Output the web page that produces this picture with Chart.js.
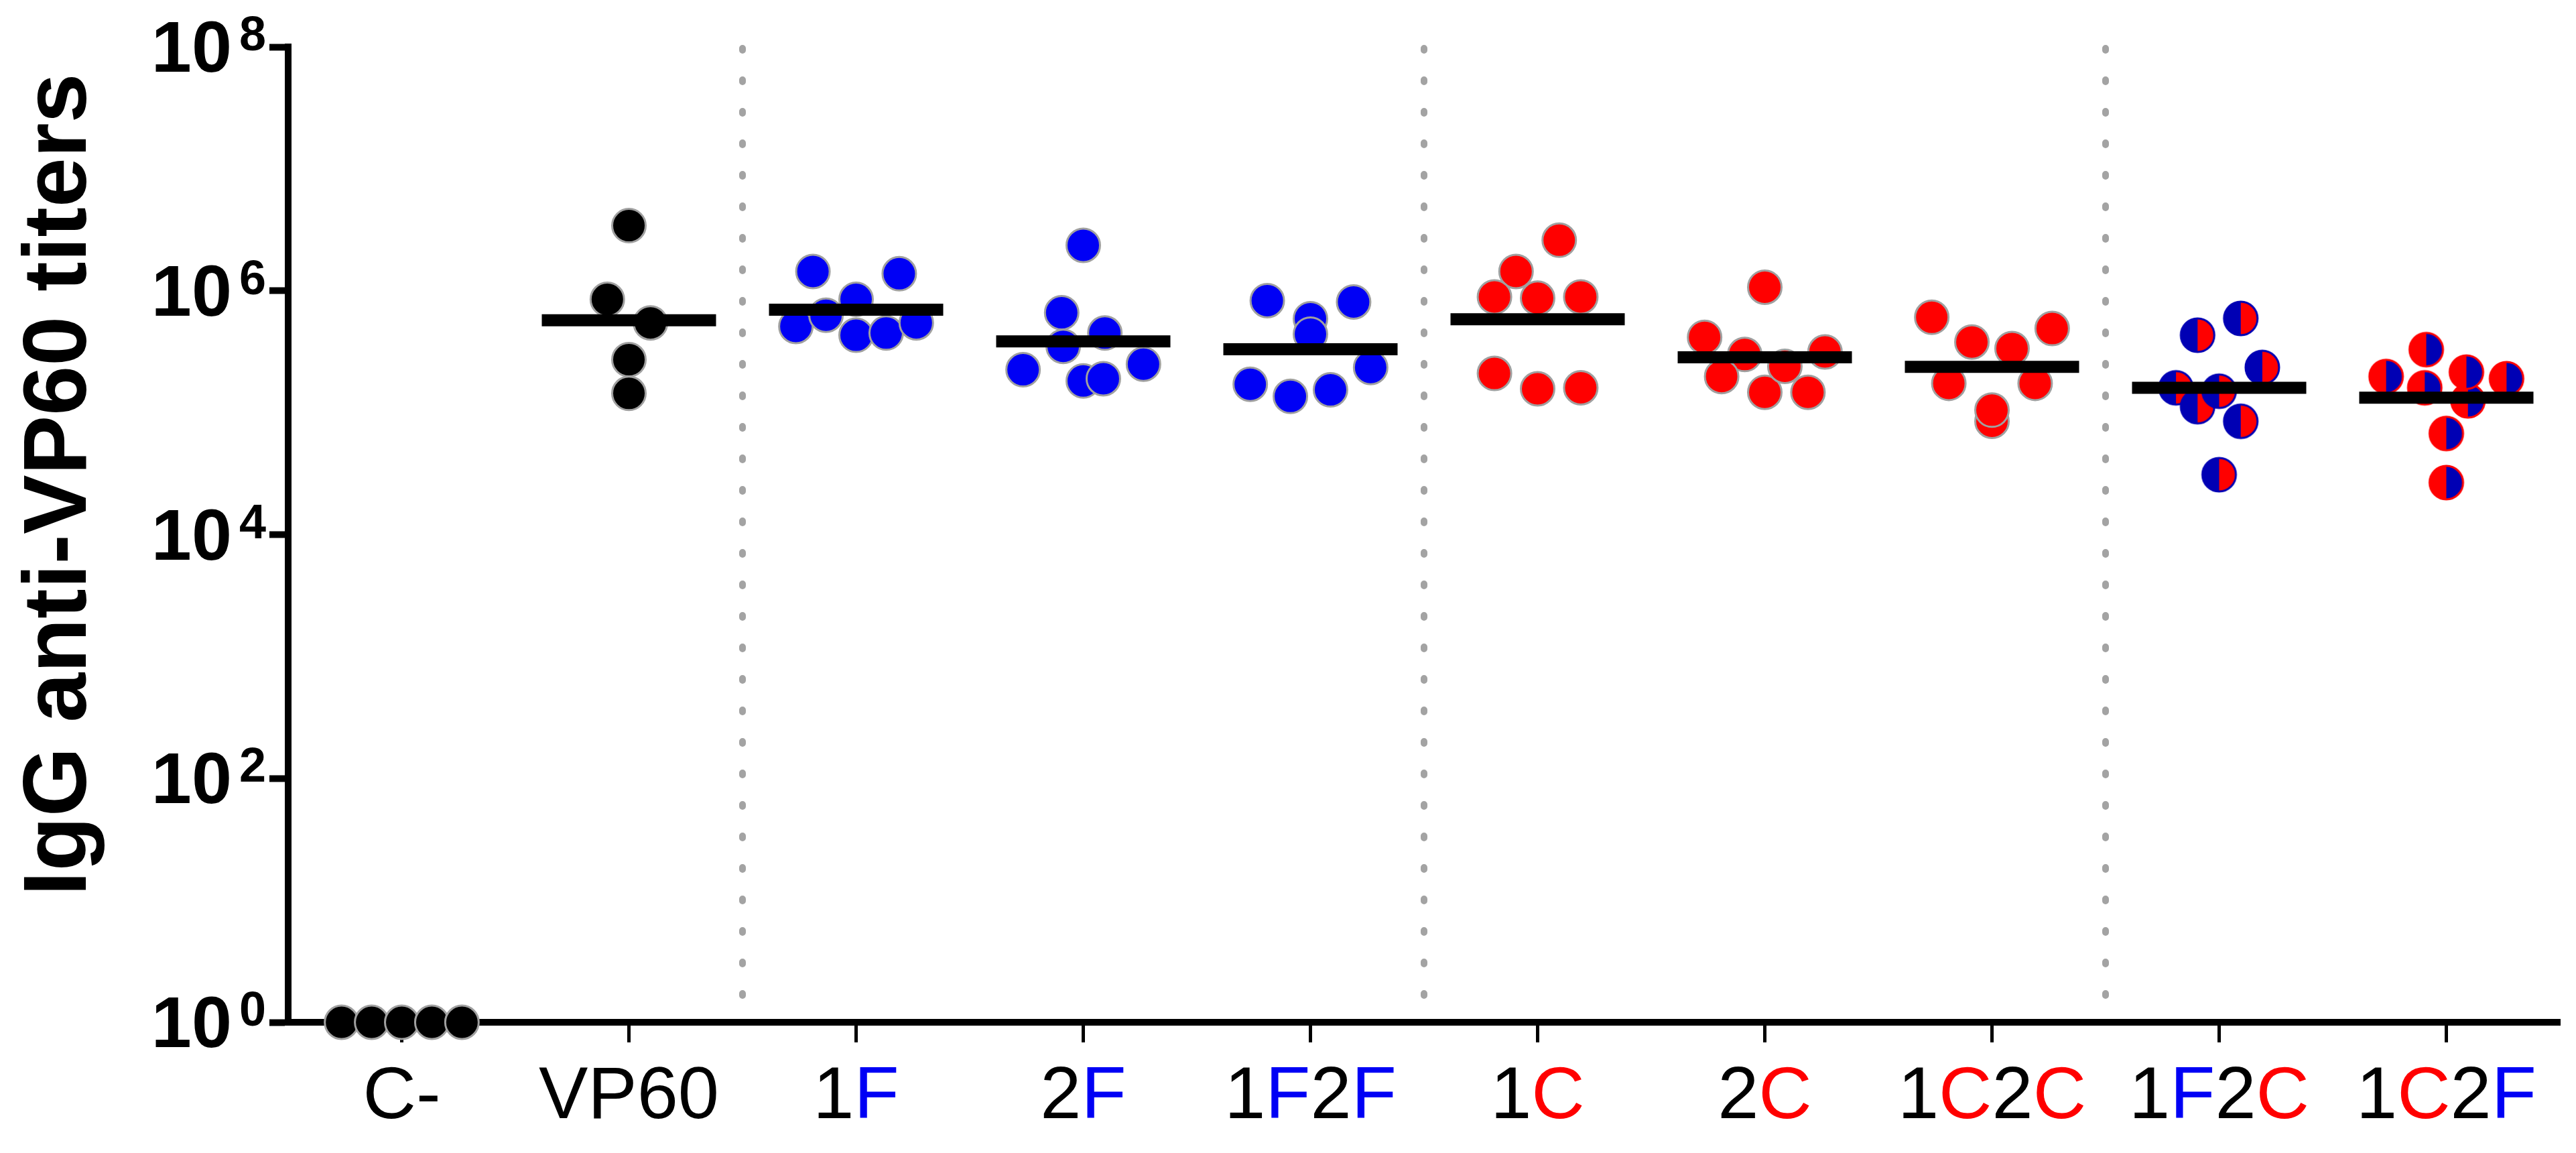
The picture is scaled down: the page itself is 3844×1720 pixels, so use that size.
<!DOCTYPE html>
<html>
<head>
<meta charset="utf-8">
<title>IgG anti-VP60 titers</title>
<script src="https://cdn.jsdelivr.net/npm/chart.js@4.4.1/dist/chart.umd.min.js"></script>
<style>
  html, body { margin: 0; padding: 0; background: #fff; }
  #wrap { width: 3844px; height: 1720px; position: relative; }
</style>
</head>
<body>
<div id="wrap"><canvas id="chart"></canvas></div>
<script>
// groups along the x axis
const categories = ['C-', 'VP60', '1F', '2F', '1F2F', '1C', '2C', '1C2C', '1F2C', '1C2F'];

// titers per animal, in the order the dots sit from left to right
const cNeg = [1, 1, 1, 1, 1];
const vp60 = [850000, 144000, 3420000, 272000, 545000];
const f1 = [1440000, 510000, 630000, 432000, 450000, 850000, 545000, 1380000];
const f2 = [225000, 350000, 182000, 2360000, 660000, 190000, 450000, 250000];
const f1f2 = [830000, 171000, 590000, 136000, 440000, 154000, 810000, 235000];
const c1 = [1440000, 210000, 890000, 2600000, 157000, 870000, 160000, 890000];
const c2 = [415000, 300000, 198000, 147000, 1070000, 147000, 240000, 315000];
const c1c2 = [606000, 174000, 380000, 85000, 336000, 105000, 490000, 174000];
const f1c2 = [160000, 112000, 432000, 85000, 31000, 593000, 150000, 235000];
const c1f2 = [198000, 329000, 26700, 160000, 125000, 215000, 67500, 190000];
const titers = [cNeg, vp60, f1, f2, f1f2, c1, c2, c1c2, f1c2, c1f2];

const yTicks = [1, 1e2, 1e4, 1e6, 1e8];
const yTitle = 'IgG anti-VP60 titers';
const separatorsAfter = ['VP60', '1F2F', '1C2C'];

const FONT = '"Liberation Sans", Arial, sans-serif';
const BLUE = '#0000f5', RED = '#ff0000', DARK_BLUE = '#0000b4', EDGE = '#a0a0a0';
const R = 25;

// scatter-dot layout: dots with close titers share a row and are spread sideways
function spread(values) {
  const BIN = 0.27, STEP = 0.19, SPAN = 0.53;
  const logs = values.map(v => Math.log10(v));
  const order = logs.map((_, i) => i).sort((a, b) => logs[b] - logs[a]);
  const off = new Array(values.length).fill(0);
  let bin = [], top = 0;
  const flush = () => {
    bin.sort((a, b) => a - b);
    const step = bin.length > 1 ? Math.min(STEP, SPAN / (bin.length - 1)) : 0;
    bin.forEach((k, j) => { off[k] = (j - (bin.length - 1) / 2) * step; });
    bin = [];
  };
  order.forEach(i => {
    if (bin.length && top - logs[i] > BIN) flush();
    if (!bin.length) top = logs[i];
    bin.push(i);
  });
  flush();
  return off;
}

function geoMean(values) {
  return Math.pow(10, values.reduce((s, v) => s + Math.log10(v), 0) / values.length);
}

function splitDot(left, right, edge) {
  const bw = 3, s = 2 * (R + bw), m = s / 2;
  const c = document.createElement('canvas');
  c.width = c.height = s;
  const g = c.getContext('2d');
  g.fillStyle = left;
  g.beginPath(); g.arc(m, m, R, Math.PI / 2, Math.PI * 1.5); g.fill();
  g.fillStyle = right;
  g.beginPath(); g.arc(m, m, R, -Math.PI / 2, Math.PI / 2); g.fill();
  g.strokeStyle = edge; g.lineWidth = bw;
  g.beginPath(); g.arc(m, m, R, 0, Math.PI * 2); g.stroke();
  return c;
}

// colour of a letter in a vaccine code: F blue, C red
function letterColor(ch) {
  return ch === 'F' ? BLUE : ch === 'C' ? RED : '#000';
}
function isCode(label) { return /^\d/.test(label); }

function dotStyle(label) {
  if (!isCode(label)) return { bg: '#000' };
  const letters = label.replace(/\d/g, '');
  const hasF = letters.includes('F'), hasC = letters.includes('C');
  if (hasF && hasC) {
    return letters[0] === 'F'
      ? { img: splitDot(DARK_BLUE, RED, DARK_BLUE) }
      : { img: splitDot(RED, DARK_BLUE, RED) };
  }
  return { bg: hasF ? BLUE : RED };
}

const datasets = titers.map((vals, i) => {
  const off = spread(vals);
  const st = dotStyle(categories[i]);
  return {
    label: categories[i],
    data: vals.map((v, k) => ({ x: i + off[k], y: v })),
    pointStyle: st.img || 'circle',
    backgroundColor: st.bg || '#000',
    borderColor: EDGE,
    borderWidth: 3,
    pointRadius: R,
    clip: false,
    order: 2
  };
});

// geometric mean bars (the negative control sits on the axis, so none there)
datasets.push({
  label: 'mean',
  data: titers.map((vals, i) => ({ x: i, y: geoMean(vals) })).filter(p => p.y > yTicks[0]),
  pointStyle: 'line',
  pointRadius: 130,
  borderColor: '#000',
  borderWidth: 18,
  clip: false,
  order: 1
});

const textPlugin = {
  id: 'textPlugin',
  beforeDatasetsDraw(chart) {
    const { ctx, chartArea, scales: { x } } = chart;
    ctx.save();
    ctx.strokeStyle = '#a3a3a3';
    ctx.lineWidth = 10;
    ctx.lineCap = 'round';
    ctx.setLineDash([3, 44]);
    separatorsAfter.forEach(name => {
      const px = x.getPixelForValue(categories.indexOf(name) + 0.5);
      ctx.beginPath();
      ctx.moveTo(px, chartArea.top + 2);
      ctx.lineTo(px, chartArea.bottom - 35);
      ctx.stroke();
    });
    ctx.restore();
  },
  afterDraw(chart) {
    const { ctx, scales: { x, y } } = chart;
    ctx.save();
    ctx.fillStyle = '#000';

    // y tick labels as 10 with superscript exponent
    yTicks.forEach(v => {
      const py = y.getPixelForValue(v);
      ctx.font = 'bold 108px ' + FONT;
      ctx.textAlign = 'right';
      ctx.textBaseline = 'alphabetic';
      ctx.fillText('10', 346, py + 37);
      ctx.font = 'bold 72px ' + FONT;
      ctx.textAlign = 'left';
      ctx.fillText(String(Math.round(Math.log10(v))), 357, py + 5);
    });

    // x category labels, letters coloured
    ctx.font = '110px ' + FONT;
    ctx.textAlign = 'left';
    categories.forEach((label, i) => {
      const cx = x.getPixelForValue(i);
      const w = ctx.measureText(label).width;
      let px = cx - w / 2;
      for (const ch of label) {
        ctx.fillStyle = isCode(label) ? letterColor(ch) : '#000';
        ctx.fillText(ch, px, 1668);
        px += ctx.measureText(ch).width;
      }
    });

    // y axis title
    ctx.fillStyle = '#000';
    ctx.font = 'bold 133px ' + FONT;
    ctx.translate(128, 723);
    ctx.rotate(-Math.PI / 2);
    ctx.textAlign = 'center';
    ctx.fillText(yTitle, 0, 0);
    ctx.restore();
  }
};

new Chart(document.getElementById('chart'), {
  type: 'scatter',
  data: { datasets },
  options: {
    responsive: true,
    maintainAspectRatio: false,
    animation: false,
    events: [],
    layout: { autoPadding: false, padding: { top: 70, right: 24, bottom: 0, left: 0 } },
    plugins: { legend: { display: false }, tooltip: { enabled: false } },
    scales: {
      x: {
        type: 'linear',
        min: -0.5,
        max: 9.5,
        afterBuildTicks: s => { s.ticks = categories.map((_, i) => ({ value: i })); },
        afterFit: s => { s.height = 195; },
        ticks: { display: false },
        grid: { drawOnChartArea: false, drawTicks: true, tickLength: 30, tickWidth: 5, tickColor: '#000' },
        border: { display: true, color: '#000', width: 10 }
      },
      y: {
        type: 'logarithmic',
        min: 1,
        max: 1e8,
        afterBuildTicks: s => { s.ticks = yTicks.map(v => ({ value: v })); },
        afterFit: s => { s.width = 430; },
        ticks: { display: false },
        grid: { drawOnChartArea: false, drawTicks: true, tickLength: 28, tickWidth: 10, tickColor: '#000' },
        border: { display: true, color: '#000', width: 10 }
      }
    }
  },
  plugins: [textPlugin]
});
</script>
</body>
</html>
